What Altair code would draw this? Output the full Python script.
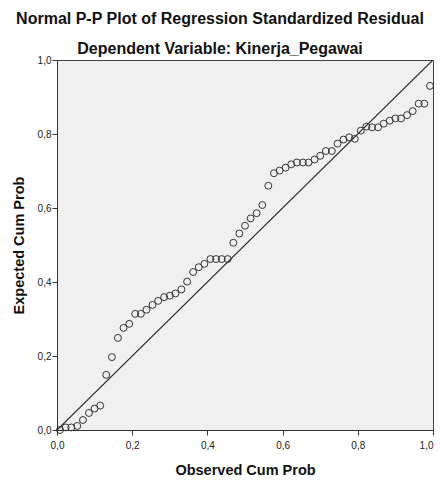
import altair as alt
import pandas as pd

observed = [0.008, 0.023, 0.038, 0.054, 0.069, 0.085, 0.100, 0.115, 0.131, 0.146,
            0.162, 0.177, 0.192, 0.208, 0.223, 0.238, 0.254, 0.269, 0.285, 0.300,
            0.315, 0.331, 0.346, 0.362, 0.377, 0.392, 0.408, 0.423, 0.438, 0.454,
            0.469, 0.485, 0.500, 0.515, 0.531, 0.546, 0.562, 0.577, 0.592, 0.608,
            0.623, 0.638, 0.654, 0.669, 0.685, 0.700, 0.715, 0.731, 0.746, 0.762,
            0.777, 0.792, 0.808, 0.823, 0.838, 0.854, 0.869, 0.885, 0.900, 0.915,
            0.931, 0.946, 0.962, 0.977, 0.992]
expected = [0.000, 0.007, 0.007, 0.011, 0.027, 0.046, 0.058, 0.066, 0.149, 0.197,
            0.249, 0.276, 0.287, 0.314, 0.314, 0.325, 0.338, 0.349, 0.359, 0.363,
            0.369, 0.380, 0.401, 0.427, 0.440, 0.449, 0.462, 0.462, 0.462, 0.462,
            0.506, 0.531, 0.552, 0.572, 0.586, 0.608, 0.660, 0.694, 0.701, 0.709,
            0.718, 0.723, 0.723, 0.723, 0.731, 0.741, 0.754, 0.754, 0.774, 0.785,
            0.791, 0.787, 0.809, 0.820, 0.818, 0.818, 0.828, 0.836, 0.842, 0.842,
            0.851, 0.862, 0.882, 0.882, 0.930]
diag_x = [0.0, 1.0]
diag_y = [0.0, 1.0]
ticks = [0.0, 0.2, 0.4, 0.6, 0.8, 1.0]

pts = pd.DataFrame({"obs": observed, "exp": expected})
diag = pd.DataFrame({"obs": diag_x, "exp": diag_y})

FONT = "Liberation Sans"
label_expr = "replace(format(datum.value, '.1f'), '.', ',')"

xscale = alt.Scale(domain=[0, 1], nice=False, zero=False)
yscale = alt.Scale(domain=[0, 1], nice=False, zero=False)

xaxis = alt.Axis(title="Observed Cum Prob", values=ticks, labelExpr=label_expr,
                 grid=False, tickSize=5, tickColor="#333", domainColor="#333",
                 labelFont=FONT, labelFontSize=10, labelColor="#222", labelPadding=5,
                 labelAlign={"condition": {"test": "datum.value >= 1", "value": "right"},
                             "value": "center"},
                 titleFont=FONT, titleFontSize=14.5, titleFontWeight="bold",
                 titleColor="#111", titlePadding=13)
yaxis = alt.Axis(title="Expected Cum Prob", values=ticks, labelExpr=label_expr,
                 grid=False, tickSize=5, tickColor="#333", domainColor="#333",
                 labelFont=FONT, labelFontSize=10, labelColor="#222", labelPadding=1,
                 titleFont=FONT, titleFontSize=14.5, titleFontWeight="bold",
                 titleColor="#111", titlePadding=11)

line = alt.Chart(diag).mark_line(color="#222", strokeWidth=1.2, clip=True).encode(
    x=alt.X("obs:Q", scale=xscale, axis=xaxis),
    y=alt.Y("exp:Q", scale=yscale, axis=yaxis),
)

points = alt.Chart(pts).mark_point(shape="circle", filled=False, size=48,
                                   color="#333", strokeWidth=1, opacity=1).encode(
    x=alt.X("obs:Q", scale=xscale),
    y=alt.Y("exp:Q", scale=yscale),
)

chart = alt.layer(line, points).properties(
    width=376, height=370,
    autosize=alt.AutoSizeParams(type="none"),
    padding={"left": 49, "top": 52, "right": 1, "bottom": 48},
    background="white",
    title=alt.TitleParams(
        text="Normal P-P Plot of Regression Standardized Residual",
        subtitle="Dependent Variable: Kinerja_Pegawai",
        font=FONT, fontSize=16, fontWeight="bold", color="#111",
        subtitleFont=FONT, subtitleFontSize=16, subtitleFontWeight="bold",
        subtitleColor="#111", subtitlePadding=14,
        anchor="middle", dx=-25, offset=-2,
    ),
).configure_view(fill="#f0f0f0", stroke="#444", strokeWidth=1)

chart.save("out.html", embed_options={"renderer": "svg", "actions": False})
